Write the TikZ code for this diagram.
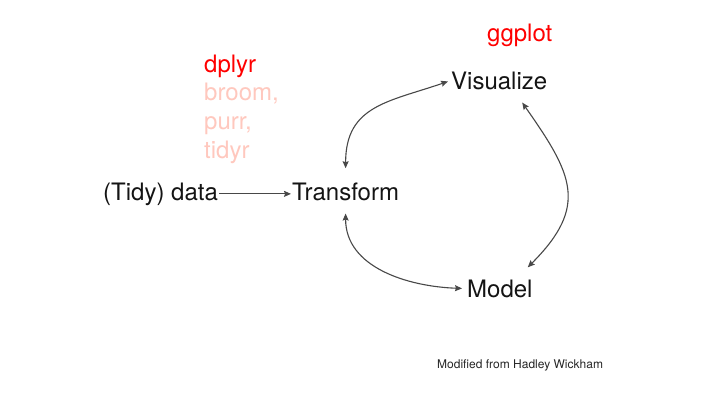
\documentclass[tikz,border=0pt]{standalone}
\usepackage{fontspec}
\setmainfont{TeX Gyre Heros}
\usepackage{tikz}
\usetikzlibrary{arrows.meta,positioning}
\definecolor{pkgred}{RGB}{255,0,0}
\definecolor{pkgpink}{RGB}{255,200,190}
\definecolor{cyclegray}{RGB}{72,72,72}
\tikzset{
  big/.style={font=\fontsize{24}{28}\selectfont,inner sep=1pt,anchor=base west,text=black!92},
  pkg/.style={big,text=pkgpink},
  cycle/.style={cyclegray,line width=1.1pt,{Stealth[length=7pt,width=6pt,inset=1pt]}-{Stealth[length=7pt,width=6pt,inset=1pt]}}
}

\begin{document}
\begin{tikzpicture}[x=1pt,y=1pt]
  % page
  \useasboundingbox[fill=white] (0,0) rectangle (720,405);
  % the packages
  \node[pkg,text=pkgred] (dplyr) at (203,332) {dplyr};
  \node[pkg,below=28pt of dplyr.base west,anchor=base west] (broom) {broom,};
  \node[pkg,below=29pt of broom.base west,anchor=base west] (purr) {purr,};
  \node[pkg,below=28pt of purr.base west,anchor=base west] (tidyr) {tidyr};
  \node[pkg,text=pkgred] (ggplot) at (486,363) {ggplot};
  % the steps
  \node[big] (data) at (102,205) {(Tidy) data};
  \node[big] (transform) at (291,205) {Transform};
  \node[big] (visualize) at (450,315) {Visualize};
  \node[big] (model) at (466,108) {Model};
  % into the cycle
  \draw[cyclegray,line width=1.1pt,-{Stealth[length=7pt,width=6pt,inset=1pt]}] (data.east) -- (transform.west |- data.east);
  % the cycle
  \draw[cycle] ([yshift=13pt]transform.north) to[out=90,in=199,looseness=1.2] ([xshift=-2pt]visualize.west);
  \draw[cycle] ([shift={(23pt,-11pt)}]visualize.south) to[out=-55,in=45,looseness=1.35] ([shift={(-6pt,11pt)}]model.north east);
  \draw[cycle] ([yshift=-12pt]transform.south) to[out=-90,in=178] ([xshift=-4pt]model.west);
  % source
  \node[font=\fontsize{12}{14}\selectfont,inner sep=0pt,anchor=base west,text=black!85] (credit) at (437,37) {Modified from Hadley Wickham};
\end{tikzpicture}
\end{document}
